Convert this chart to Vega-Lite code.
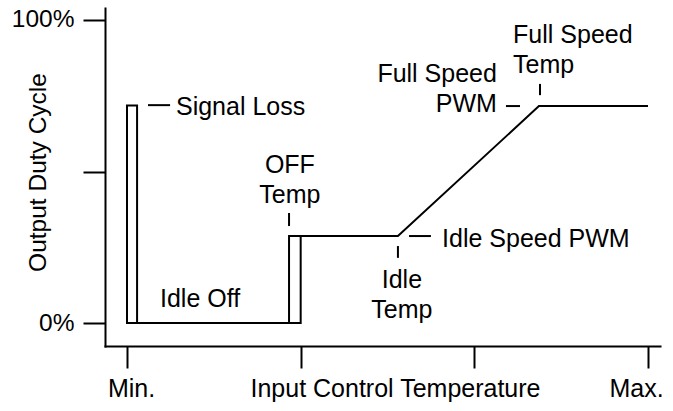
{
  "$schema": "https://vega.github.io/schema/vega-lite/v6.json",
  "width": 555,
  "height": 338,
  "autosize": {"type": "none"},
  "padding": {"left": 105, "top": 8, "right": 13, "bottom": 65},
  "background": "white",
  "config": {
    "view": {"stroke": null},
    "font": "Liberation Sans",
    "text": {"font": "Liberation Sans", "fontSize": 25, "color": "black", "lineHeight": 30}
  },
  "datasets": {
    "curve": [
      {"seg": "a", "step": 1, "temp": 0.058, "duty": 0},
      {"seg": "a", "step": 2, "temp": 0.058, "duty": 71.8},
      {"seg": "a", "step": 3, "temp": 0, "duty": 71.8},
      {"seg": "a", "step": 4, "temp": 0, "duty": 0},
      {"seg": "a", "step": 5, "temp": 1.0, "duty": 0},
      {"seg": "a", "step": 6, "temp": 1.0, "duty": 28.7},
      {"seg": "b", "step": 1, "temp": 0.933, "duty": 0},
      {"seg": "b", "step": 2, "temp": 0.933, "duty": 28.7},
      {"seg": "b", "step": 3, "temp": 1.56, "duty": 28.7},
      {"seg": "b", "step": 4, "temp": 2.372, "duty": 71.6},
      {"seg": "b", "step": 5, "temp": 3.0, "duty": 71.6}
    ],
    "leaders": [
      {"x": 0.121, "x2": 0.248, "y": 71.9, "y2": 71.9},
      {"x": 0.933, "x2": 0.933, "y": 36.3, "y2": 32.0},
      {"x": 1.56, "x2": 1.56, "y": 25.4, "y2": 21.5},
      {"x": 1.624, "x2": 1.75, "y": 28.7, "y2": 28.7},
      {"x": 2.182, "x2": 2.263, "y": 71.6, "y2": 71.6},
      {"x": 2.378, "x2": 2.378, "y": 78.9, "y2": 75.2}
    ],
    "notes": [
      {"side": "left", "x": 0.282, "y": 68.6, "label": ["Signal Loss"]},
      {"side": "left", "x": 0.19, "y": 5.3, "label": ["Idle Off"]},
      {"side": "left", "x": 1.814, "y": 25.1, "label": ["Idle Speed PWM"]},
      {"side": "left", "x": 2.223, "y": 92.4, "label": ["Full Speed", "Temp"]},
      {"side": "center", "x": 0.938, "y": 49.5, "label": ["OFF", "Temp"]},
      {"side": "center", "x": 1.583, "y": 11.55, "label": ["Idle", "Temp"]},
      {"side": "right", "x": 2.13, "y": 79.5, "label": ["Full Speed", "PWM"]}
    ]
  },
  "layer": [
    {
      "data": {"name": "curve"},
      "mark": {"type": "line", "color": "black", "strokeWidth": 2, "strokeJoin": "miter"},
      "encoding": {
        "x": {
          "field": "temp", "type": "quantitative",
          "scale": {"domain": [-0.1267, 3.069], "nice": false, "zero": false},
          "axis": {
            "values": [0, 1, 2, 3],
            "labelExpr": "datum.value == 0 ? 'Min.' : datum.value == 3 ? 'Max.' : ''",
            "title": "Input Control Temperature",
            "grid": false,
            "domainColor": "black", "domainWidth": 2, "domainCap": "square",
            "tickColor": "black", "tickWidth": 2, "tickSize": 22,
            "labelFont": "Liberation Sans", "labelFontSize": 25, "labelColor": "black",
            "labelBaseline": "alphabetic", "labelPadding": 28, "labelAlign": "center",
            "labelOverlap": false, "labelFlush": false, "labelBound": false,
            "labelOffset": {"condition": {"test": "datum.value == 3", "value": -12}, "value": 4},
            "titleFont": "Liberation Sans", "titleFontSize": 25, "titleFontWeight": "normal", "titleColor": "black",
            "titleX": 290, "titleY": 50, "titleBaseline": "alphabetic", "titleAlign": "center"
          }
        },
        "y": {
          "field": "duty", "type": "quantitative",
          "scale": {"domain": [-7.59, 103.96], "nice": false, "zero": false},
          "axis": {
            "values": [0, 50, 100],
            "labelExpr": "datum.value == 0 ? '0%' : datum.value == 100 ? '100%' : ''",
            "title": "Output Duty Cycle",
            "grid": false,
            "domainColor": "black", "domainWidth": 2, "domainCap": "square",
            "tickColor": "black", "tickWidth": 2, "tickSize": 22,
            "labelFont": "Liberation Sans", "labelFontSize": 24.5, "labelColor": "black",
            "labelPadding": 9, "labelOverlap": false, "labelBound": false, "labelFlush": false,
            "titleFont": "Liberation Sans", "titleFontSize": 24.5, "titleFontWeight": "normal", "titleColor": "black",
            "titleX": -60, "titleY": 164, "titleBaseline": "alphabetic", "titleAlign": "center"
          }
        },
        "detail": {"field": "seg", "type": "nominal"},
        "order": {"field": "step", "type": "quantitative"}
      }
    },
    {
      "data": {"name": "leaders"},
      "mark": {"type": "rule", "color": "black", "strokeWidth": 2},
      "encoding": {
        "x": {"field": "x", "type": "quantitative"},
        "x2": {"field": "x2"},
        "y": {"field": "y", "type": "quantitative"},
        "y2": {"field": "y2"}
      }
    },
    {
      "data": {"name": "notes"},
      "transform": [{"filter": "datum.side == 'left'"}],
      "mark": {"type": "text", "align": "left", "baseline": "alphabetic"},
      "encoding": {
        "x": {"field": "x", "type": "quantitative"},
        "y": {"field": "y", "type": "quantitative"},
        "text": {"field": "label"}
      }
    },
    {
      "data": {"name": "notes"},
      "transform": [{"filter": "datum.side == 'center'"}],
      "mark": {"type": "text", "align": "center", "baseline": "alphabetic"},
      "encoding": {
        "x": {"field": "x", "type": "quantitative"},
        "y": {"field": "y", "type": "quantitative"},
        "text": {"field": "label"}
      }
    },
    {
      "data": {"name": "notes"},
      "transform": [{"filter": "datum.side == 'right'"}],
      "mark": {"type": "text", "align": "right", "baseline": "alphabetic"},
      "encoding": {
        "x": {"field": "x", "type": "quantitative"},
        "y": {"field": "y", "type": "quantitative"},
        "text": {"field": "label"}
      }
    }
  ]
}
